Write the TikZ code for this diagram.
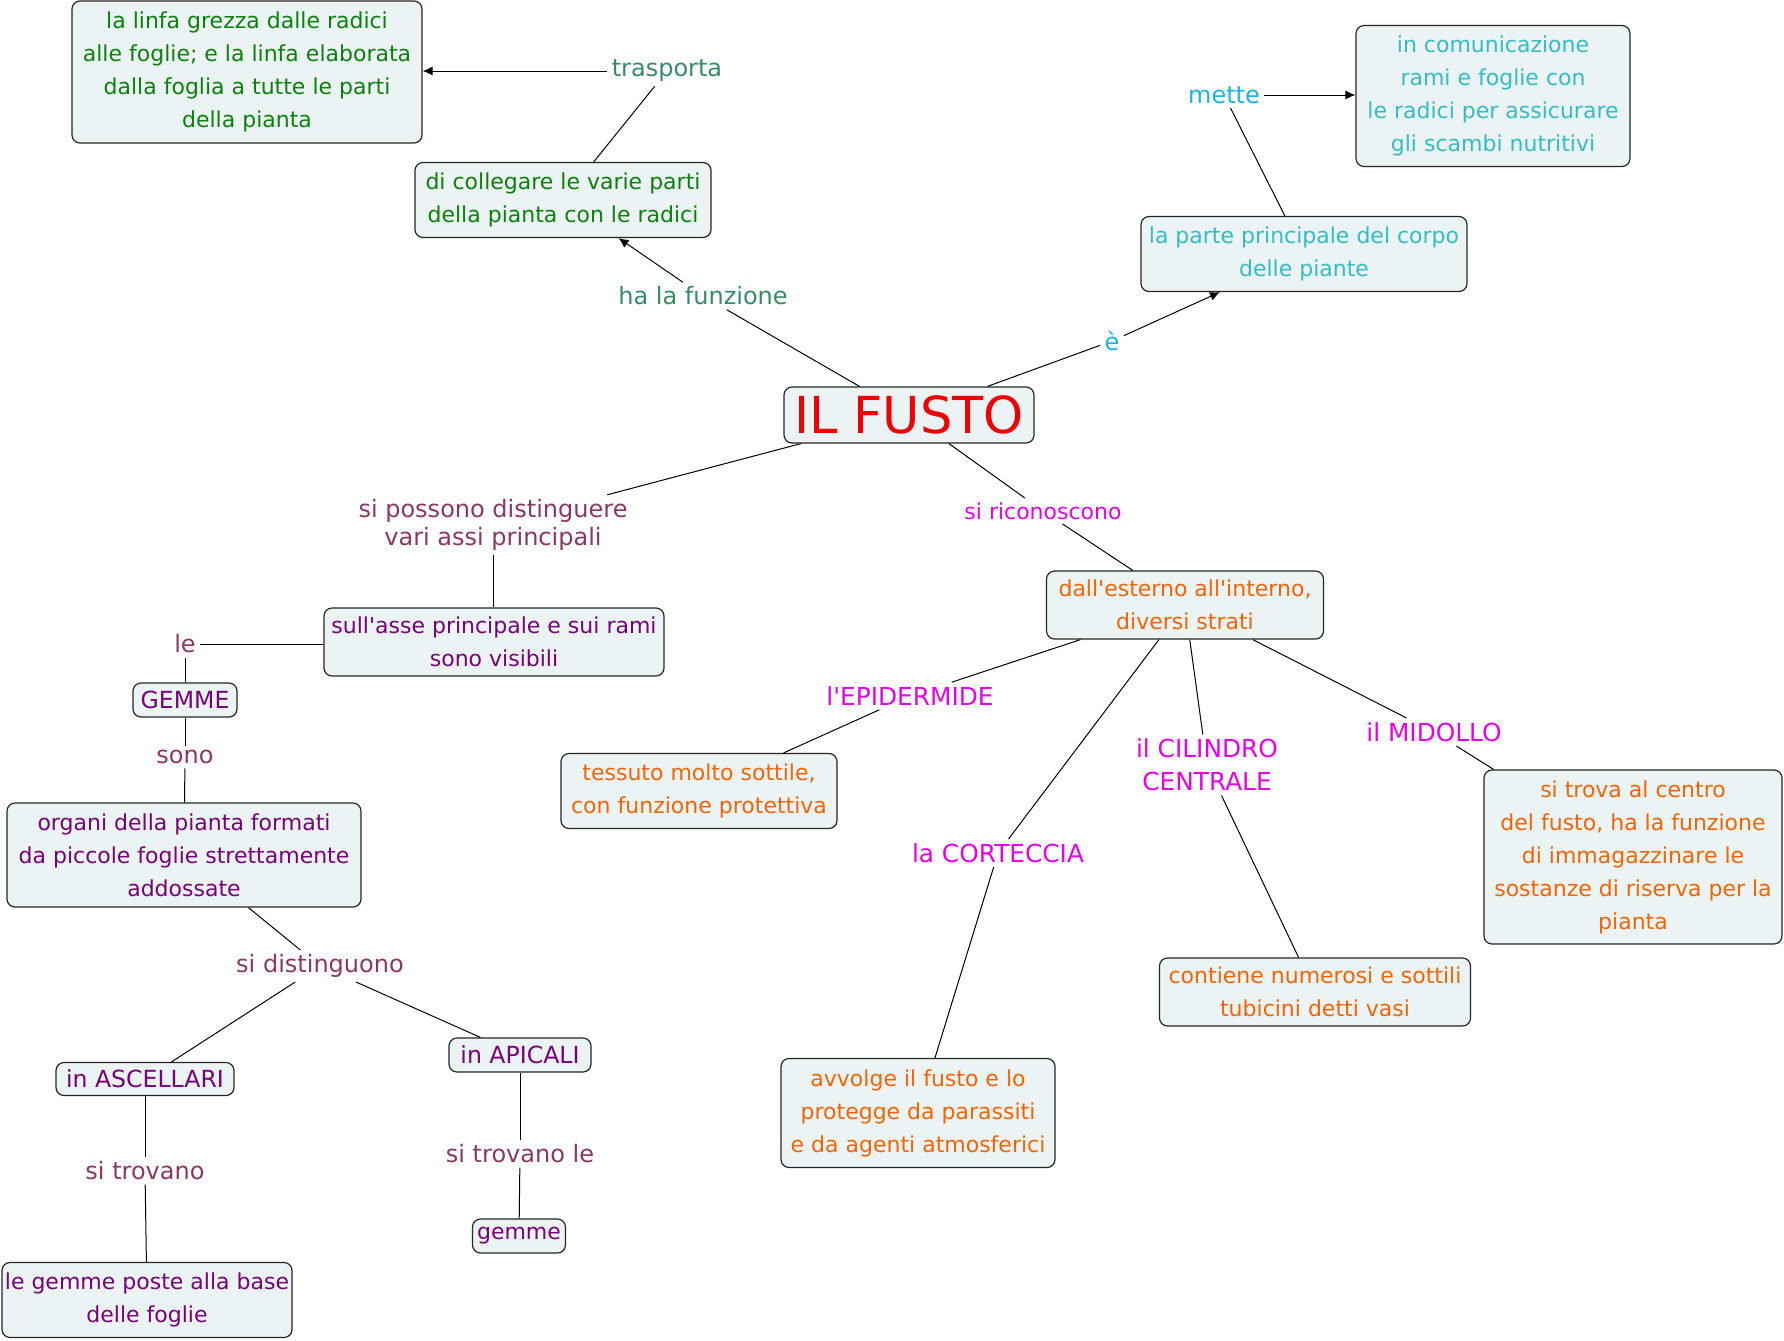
\documentclass[tikz,border=0pt]{standalone}
\usepackage{fontspec}
\usetikzlibrary{arrows.meta}
\newfontfamily\nf{DejaVu Sans}
\definecolor{boxfill}{RGB}{236,243,244}
\definecolor{cgreen}{RGB}{10,130,10}
\definecolor{lgreen}{RGB}{56,140,100}
\definecolor{ccyan}{RGB}{50,190,195}
\definecolor{lcyan}{RGB}{25,180,230}
\definecolor{cred}{RGB}{240,0,0}
\definecolor{cpurple}{RGB}{120,0,120}
\definecolor{lpurple}{RGB}{140,55,100}
\definecolor{cmag}{RGB}{230,0,230}
\definecolor{corange}{RGB}{245,100,0}
\tikzset{
  box/.style={draw=black!85, fill=boxfill, rounded corners=4pt, line width=0.6pt,
    align=center, inner sep=0pt, font=\nf\fontsize{11}{16.5}\selectfont},
  capsbox/.style={box, font=\nf\fontsize{11.8}{16.5}\selectfont},
  lbl/.style={font=\nf\fontsize{12}{14.2}\selectfont, align=center, inner sep=2pt},
  lblc/.style={font=\nf\fontsize{11}{16.5}\selectfont, align=center, inner sep=2pt},
  lblcaps/.style={font=\nf\fontsize{12.4}{16.5}\selectfont, align=center, inner sep=2pt},
  conn/.style={draw=black, line width=0.5pt},
  arr/.style={conn, -{Latex[length=5pt,width=4.5pt]}}
}
\begin{document}
\begin{tikzpicture}[x=0.5pt,y=-0.5pt]
\useasboundingbox[fill=white] (0,0) rectangle (1784,1340);
% nodes
\node[box, text=cgreen, minimum width=175pt, minimum height=71pt] (linfa) at (247,72)
  {la linfa grezza dalle radici\\alle foglie; e la linfa elaborata\\dalla foglia a tutte le parti\\della pianta};
\node[box, text=cgreen, minimum width=148pt, minimum height=37.5pt] (coll) at (563,200)
  {di collegare le varie parti\\della pianta con le radici};
\node[box, text=ccyan, minimum width=137pt, minimum height=70.5pt] (comu) at (1493,96)
  {in comunicazione\\rami e foglie con\\le radici per assicurare\\gli scambi nutritivi};
\node[box, text=ccyan, minimum width=163pt, minimum height=37.5pt] (parte) at (1304,254)
  {la parte principale del corpo\\delle piante};
\node[box, text=cred, minimum width=125pt, minimum height=28pt, font=\nf\fontsize{25.5}{30}\selectfont] (fusto) at (909,415)
  {IL FUSTO};
\node[box, text=cpurple, minimum width=170pt, minimum height=34pt] (asse) at (494,642)
  {sull'asse principale e sui rami\\sono visibili};
\node[capsbox, text=cpurple, minimum width=52pt, minimum height=17pt] (GEMME) at (185,700) {GEMME};
\node[box, text=cpurple, minimum width=177pt, minimum height=52pt] (organi) at (184,855)
  {organi della pianta formati\\da piccole foglie strettamente\\addossate};
\node[capsbox, text=cpurple, minimum width=89pt, minimum height=16.5pt] (asc) at (145,1079) {in ASCELLARI};
\node[capsbox, text=cpurple, minimum width=71pt, minimum height=17pt] (api) at (520,1055) {in APICALI};
\node[box, text=cpurple, minimum width=46.5pt, minimum height=17pt] (gemme) at (519,1236) {gemme};
\node[box, text=cpurple, minimum width=145pt, minimum height=37.5pt] (poste) at (147,1300)
  {le gemme poste alla base\\delle foglie};
\node[box, text=corange, minimum width=138.5pt, minimum height=34pt] (strati) at (1185,605)
  {dall'esterno all'interno,\\diversi strati};
\node[box, text=corange, minimum width=138pt, minimum height=37.5pt] (tess) at (699,791)
  {tessuto molto sottile,\\con funzione protettiva};
\node[box, text=corange, minimum width=137pt, minimum height=54.5pt] (avv) at (918,1113)
  {avvolge il fusto e lo\\protegge da parassiti\\e da agenti atmosferici};
\node[box, text=corange, minimum width=155.5pt, minimum height=34pt] (cont) at (1315,992)
  {contiene numerosi e sottili\\tubicini detti vasi};
\node[box, text=corange, minimum width=149pt, minimum height=87pt] (centro) at (1633,857)
  {si trova al centro\\del fusto, ha la funzione\\di immagazzinare le\\sostanze di riserva per la\\pianta};
% labels
\node[lbl, text=lgreen] (tras) at (667,71) {trasporta};
\node[lbl, text=lgreen] (funz) at (703,296) {ha la funzione};
\node[lbl, text=lcyan] (mette) at (1224,95) {mette};
\node[lbl, text=lcyan] (e) at (1112,341) {è};
\node[lbl, text=lpurple] (dist) at (493,525) {si possono distinguere\\vari assi principali};
\node[lblc, text=cmag] (rico) at (1043,511) {si riconoscono};
\node[lbl, text=lpurple] (le) at (185,644) {le};
\node[lbl, text=lpurple] (sono) at (185,757) {sono};
\node[lbl, text=lpurple] (sidist) at (320,966) {si distinguono};
\node[lbl, text=lpurple] (trov) at (145,1171) {si trovano};
\node[lbl, text=lpurple] (trovle) at (520,1154) {si trovano le};
\node[lblcaps, text=cmag] (epi) at (910,696) {l'EPIDERMIDE};
\node[lblcaps, text=cmag] (cort) at (998,853) {la CORTECCIA};
\node[lblcaps, text=cmag] (cil) at (1207,765) {il CILINDRO\\CENTRALE};
\node[lblcaps, text=cmag] (mid) at (1434,732) {il MIDOLLO};
% connectors
\draw[conn] (coll) -- (tras);
\draw[arr] (tras.west) -- (linfa.east |- tras.west);
\draw[conn] (fusto) -- (funz);
\draw[arr] (funz) -- (coll);
\draw[conn] (fusto) -- (e);
\draw[arr] (e) -- (parte);
\draw[conn] (parte) -- (mette);
\draw[arr] (mette.east) -- (comu.west |- mette.east);
\draw[conn] (fusto) -- (dist);
\draw[conn] (dist) -- (asse.north -| dist.south);
\draw[conn] (asse.west |- le) -- (le);
\draw[conn] (le) -- (GEMME);
\draw[conn] (GEMME) -- (sono);
\draw[conn] (sono) -- (organi);
\draw[conn] (organi) -- (sidist);
\draw[conn] (sidist) -- (asc);
\draw[conn] (sidist) -- (api);
\draw[conn] (asc) -- (trov);
\draw[conn] (trov) -- (poste);
\draw[conn] (api) -- (trovle);
\draw[conn] (trovle) -- (gemme);
\draw[conn] (fusto) -- (rico);
\draw[conn] (rico) -- (strati);
\draw[conn] (strati) -- (epi);
\draw[conn] (epi) -- (tess);
\draw[conn] (strati) -- (cort);
\draw[conn] (cort) -- (avv);
\draw[conn] (strati) -- (cil);
\draw[conn] (cil) -- (cont);
\draw[conn] (strati) -- (mid);
\draw[conn] (mid) -- (centro);
\end{tikzpicture}
\end{document}
